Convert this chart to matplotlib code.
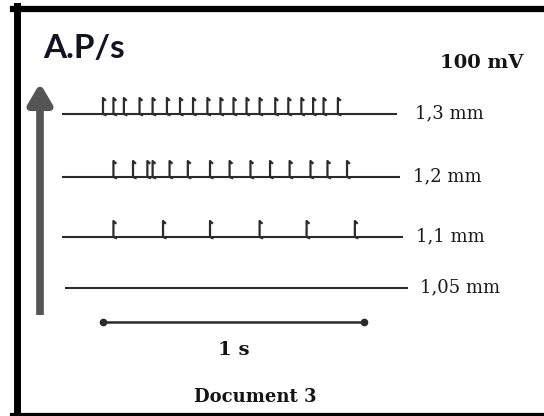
import matplotlib.pyplot as plt
from matplotlib.lines import Line2D

# Stimulus intensities and spike times (s)
stimuli = ["1,3 mm", "1,2 mm", "1,1 mm", "1,05 mm"]
spikes_13 = [0.00, 0.04, 0.08, 0.14, 0.19, 0.245, 0.295, 0.345, 0.40, 0.45,
             0.50, 0.55, 0.60, 0.66, 0.71, 0.76, 0.805, 0.845, 0.90]
spikes_12 = [0.04, 0.115, 0.17, 0.19, 0.255, 0.325, 0.41, 0.485, 0.565,
             0.64, 0.715, 0.795, 0.86, 0.935]
spikes_11 = [0.04, 0.23, 0.41, 0.60, 0.78, 0.965]
spikes_105 = []
trace_start = [-0.157, -0.157, -0.157, -0.146]
trace_end = [1.126, 1.138, 1.149, 1.169]
scale_bar = [0.0, 1.0]  # 1 s

all_spikes = [spikes_13, spikes_12, spikes_11, spikes_105]

# layout (pixel rows of the baselines, 261 px per second)
px_s = 261.0
baselines = [114, 177, 237, 288]
label_gap = [0.068, 0.05, 0.05, 0.046]
bar_y = 322
spike_h = 16
ink = "#2b2b2b"

fig = plt.figure(figsize=(5.44, 4.16), dpi=100)
ax = fig.add_axes([0, 0, 1, 1])
ax.set_xlim(-103 / px_s, 441 / px_s)
ax.set_ylim(416, 0)
ax.axis("off")

# --- traces ---
for times, base, t0, t1, lab, gap in zip(all_spikes, baselines, trace_start,
                                          trace_end, stimuli, label_gap):
    ax.plot([t0, t1], [base, base], color=ink, lw=1.5, solid_capstyle="butt")
    for t in times:
        ax.plot([t + 0.008, t, t, t + 0.010],
                [base - spike_h + 2, base - spike_h, base, base + 1],
                color=ink, lw=1.6)
    ax.text(t1 + gap, base - 1, lab, fontsize=13, family="DejaVu Serif",
            color="#1a1a1a", va="center", ha="left")

# --- 1 s scale bar ---
ax.plot(scale_bar, [bar_y, bar_y], color=ink, lw=1.8, marker="o", markersize=4.5)
ax.text(sum(scale_bar) / 2, 355, "1 s", fontsize=14, family="DejaVu Serif",
        weight="bold", color="#141414", ha="center", va="baseline")

# --- axis arrow ---
ax.annotate("", xy=(-63 / px_s, 83), xytext=(-63 / px_s, 315),
            arrowprops=dict(arrowstyle="-|>,head_width=0.35,head_length=0.6",
                            lw=5.5, color="#555555", mutation_scale=20,
                            shrinkA=0, shrinkB=0, capstyle="butt"))

# --- texts ---
fig.text(43 / 544, 1 - 58 / 416, "A.P/s", fontsize=24, family="Lato",
         weight="bold", color="#141420", va="baseline", ha="left")
fig.text(440 / 544, 1 - 68 / 416, "100 mV", fontsize=14, family="DejaVu Serif",
         weight="bold", color="#141414", va="baseline", ha="left")
fig.text(255 / 544, 1 - 402 / 416, "Document 3", fontsize=13, family="DejaVu Serif",
         weight="bold", color="#141414", va="baseline", ha="center")

# --- frame ---
fig.add_artist(Line2D([16.5 / 544, 16.5 / 544], [1 - 6 / 416, 0], color="black",
                      lw=5, transform=fig.transFigure))
fig.add_artist(Line2D([13 / 544, 1], [1 - 9 / 416, 1 - 9 / 416], color="black",
                      lw=4.5, transform=fig.transFigure))
fig.add_artist(Line2D([13 / 544, 1], [1 - 415.5 / 416, 1 - 415.5 / 416], color="black",
                      lw=4.5, transform=fig.transFigure))

fig.savefig("out.png", dpi=100)
